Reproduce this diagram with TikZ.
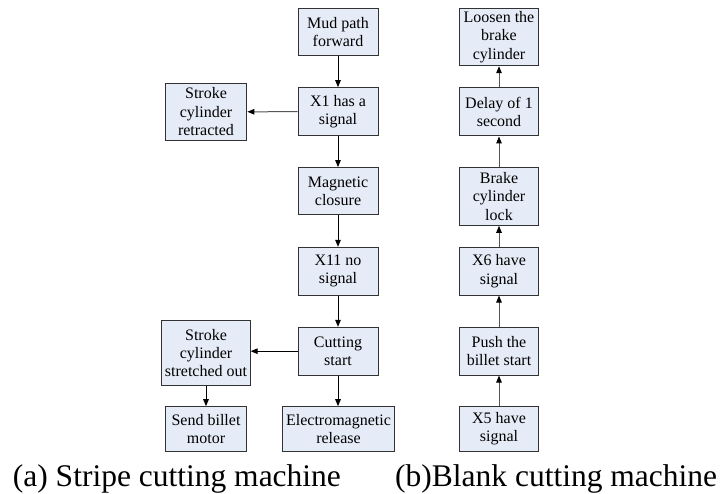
\documentclass[tikz,border=0pt]{standalone}
\usepackage{fontspec}
\setmainfont{Liberation Serif}
\usetikzlibrary{arrows.meta}
\definecolor{boxfill}{RGB}{230,236,247}
\definecolor{boxline}{RGB}{50,50,50}
\definecolor{arrline}{RGB}{85,85,85}

\tikzset{
	stepbox/.style={draw=boxline, line width=1pt, fill=boxfill, inner sep=0pt, align=center,
		font=\fontsize{16}{18.3}\selectfont},
	flow/.style={draw=arrline, line width=1pt, -{Triangle[length=7pt,width=5.5pt,color=black]}},
	mainflow/.style={flow, draw=black},
	caption/.style={anchor=base west, inner sep=0pt, font=\fontsize{31.5}{34}\selectfont}
}

\begin{document}
\begin{tikzpicture}[x=1pt,y=-1pt]
	\useasboundingbox (0,0) rectangle (721,494);
	\node[stepbox, minimum width=80, minimum height=47.4] (mud) at (338,32) {Mud path\\forward};
	\node[stepbox, minimum width=80, minimum height=48] (x1) at (338,111.7) {X1 has a\\signal};
	\node[stepbox, minimum width=80, minimum height=47.3] (mag) at (338,191.3) {Magnetic\\closure};
	\node[stepbox, minimum width=80, minimum height=47.7] (x11) at (338,271.2) {X11 no\\signal};
	\node[stepbox, minimum width=80, minimum height=47.7] (cut) at (338,351.2) {Cutting\\start};
	\node[stepbox, minimum width=111.6, minimum height=44.3] (emrel) at (338.5,428.9) {Electromagnetic\\release};
	\node[stepbox, minimum width=81.7, minimum height=57] (retr) at (206,111.8) {Stroke\\cylinder\\retracted};
	\node[stepbox, minimum width=88.3, minimum height=64.3] (stret) at (206,352.9) {Stroke\\cylinder\\stretched out};
	\node[stepbox, minimum width=81.7, minimum height=44.3] (send) at (206,428.9) {Send billet\\motor};

	\node[stepbox, minimum width=79, minimum height=57.4] (loosen) at (499,37) {Loosen the\\brake\\cylinder};
	\node[stepbox, minimum width=79, minimum height=48.3] (delay) at (499,111.8) {Delay of 1\\second};
	\node[stepbox, minimum width=79, minimum height=57.6] (lock) at (499,196.5) {Brake\\cylinder\\lock};
	\node[stepbox, minimum width=79, minimum height=47.7] (x6) at (499,271.2) {X6 have\\signal};
	\node[stepbox, minimum width=79, minimum height=47.7] (push) at (499,351.2) {Push the\\billet start};
	\node[stepbox, minimum width=79, minimum height=44.3] (x5) at (499,428.9) {X5 have\\signal};

	\draw[mainflow] (mud) -- (x1);
	\draw[mainflow] (x1) -- (mag);
	\draw[mainflow] (mag) -- (x11);
	\draw[mainflow] (x11) -- (cut);
	\draw[mainflow] (cut.south) -- (cut.south |- emrel.north);
	\draw[flow] (x1) -- (retr);
	\draw[mainflow] (cut.west) -- (cut.west -| stret.east);
	\draw[mainflow] (stret) -- (send);

	\draw[flow] (x5) -- (push);
	\draw[flow] (push) -- (x6);
	\draw[flow] (x6) -- (lock);
	\draw[flow] (lock) -- (delay);
	\draw[flow] (delay) -- (loosen);

	\node[caption] (capa) at (12.7,486.7) {(a) Stripe cutting machine};
	\node[caption] (capb) at (395,486.7) {(b)Blank cutting machine};
\end{tikzpicture}
\end{document}
